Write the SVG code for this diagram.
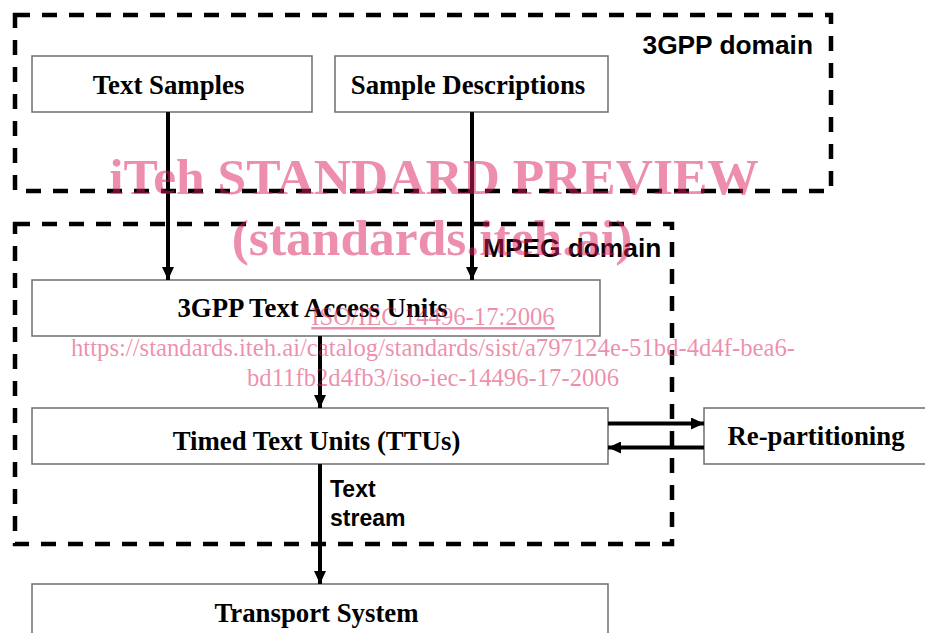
<svg xmlns="http://www.w3.org/2000/svg" width="925" height="633" viewBox="0 0 925 633">
  <style>
    .box { fill: #ffffff; stroke: #6e6e6e; stroke-width: 1.5; }
    .domain { fill: none; stroke: #000000; stroke-width: 4.5; stroke-dasharray: 15 12; }
    .lbl { font-family: "Liberation Serif", "Times New Roman", serif; font-weight: bold; font-size: 26.8px; fill: #000000; text-anchor: middle; }
    .dlbl { font-family: "Liberation Sans", Arial, sans-serif; font-weight: bold; font-size: 26.3px; fill: #000000; }
    .slbl { font-family: "Liberation Sans", Arial, sans-serif; font-weight: bold; font-size: 23px; fill: #000000; }
    .edge { fill: none; stroke: #000000; stroke-width: 4; marker-end: url(#arrow); }
    .wm { font-family: "Liberation Serif", "Times New Roman", serif; fill: #dc1e5a; fill-opacity: 0.5; text-anchor: middle; }
    .wmb { font-weight: bold; font-size: 51.5px; }
    .wms { font-size: 24.7px; }
  </style>
  <defs>
    <marker id="arrow" markerUnits="userSpaceOnUse" markerWidth="13" markerHeight="12" viewBox="0 0 13 12" refX="13" refY="6" orient="auto">
      <path d="M0,0 L13,6 L0,12 z" fill="#000000"/>
    </marker>
  </defs>

  <g id="domain-3gpp">
    <rect class="domain" x="15" y="15" width="816" height="176"/>
    <text class="dlbl" x="813" y="54" text-anchor="end">3GPP domain</text>
  </g>
  <g id="domain-mpeg">
    <rect class="domain" x="15" y="224" width="657" height="320"/>
    <text class="dlbl" x="483" y="257">MPEG domain</text>
  </g>

  <g id="text-samples">
    <rect class="box" x="32" y="56" width="280" height="56"/>
    <text class="lbl" x="168.5" y="94">Text Samples</text>
  </g>
  <g id="sample-descriptions">
    <rect class="box" x="335" y="56" width="273" height="56"/>
    <text class="lbl" x="468" y="94">Sample Descriptions</text>
  </g>
  <g id="access-units">
    <rect class="box" x="32" y="280" width="568" height="56"/>
    <text class="lbl" x="312.5" y="317">3GPP Text Access Units</text>
  </g>
  <g id="ttus">
    <rect class="box" x="32" y="408" width="576" height="56"/>
    <text class="lbl" x="316.5" y="450">Timed Text Units (TTUs)</text>
  </g>
  <g id="repartitioning">
    <rect class="box" x="704" y="408" width="240" height="56"/>
    <text class="lbl" x="816" y="445">Re-partitioning</text>
  </g>
  <g id="transport">
    <rect class="box" x="32" y="584" width="576" height="70"/>
    <text class="lbl" x="316.5" y="622">Transport System</text>
  </g>

  <g id="connectors">
    <line class="edge" x1="168" y1="112" x2="168" y2="280"/>
    <line class="edge" x1="472" y1="112" x2="472" y2="280"/>
    <line class="edge" x1="320" y1="336" x2="320" y2="408"/>
    <line class="edge" x1="320" y1="464" x2="320" y2="584"/>
    <line class="edge" x1="608" y1="423.5" x2="704" y2="423.5"/>
    <line class="edge" x1="704" y1="447.5" x2="608" y2="447.5"/>
    <text class="slbl" x="330" y="497">Text</text>
    <text class="slbl" x="330" y="526">stream</text>
  </g>

  <g id="watermark">
    <text class="wm wmb" x="434" y="194">iTeh STANDARD PREVIEW</text>
    <text class="wm wmb" x="432" y="255">(standards.iteh.ai)</text>
    <text class="wm wms" x="433" y="325" text-decoration="underline">ISO/IEC 14496-17:2006</text>
    <text class="wm wms" x="433" y="356">https://standards.iteh.ai/catalog/standards/sist/a797124e-51bd-4d4f-bea6-</text>
    <text class="wm wms" x="433" y="386">bd11fb2d4fb3/iso-iec-14496-17-2006</text>
  </g>
</svg>
